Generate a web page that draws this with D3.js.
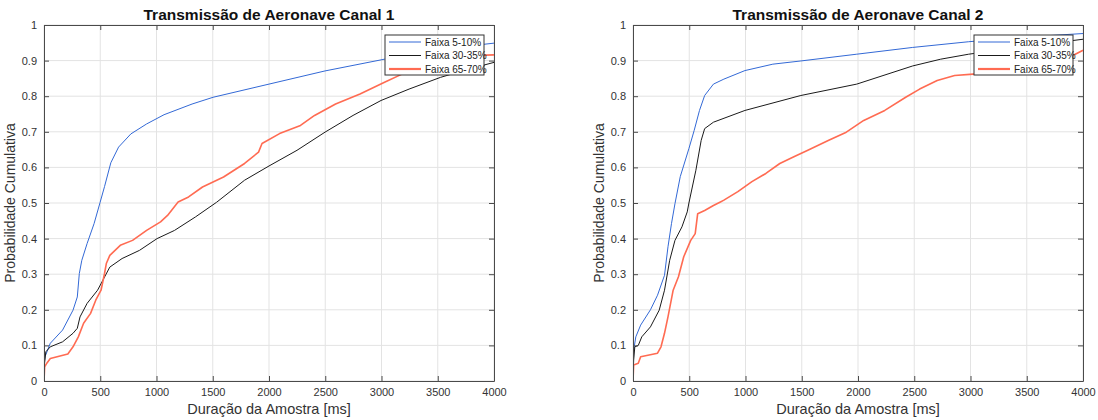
<!DOCTYPE html>
<html>
<head>
<meta charset="utf-8">
<script src="https://cdn.jsdelivr.net/npm/d3@7"></script>
<style>
  body { margin: 0; background: #fff; }
  text { font-family: "Liberation Sans", Arial, sans-serif; }
</style>
</head>
<body>
<svg id="chart" width="1098" height="420"></svg>
<script>

var xTicks = [0, 500, 1000, 1500, 2000, 2500, 3000, 3500, 4000];
var yTicks = [0, 0.1, 0.2, 0.3, 0.4, 0.5, 0.6, 0.7, 0.8, 0.9, 1];
var seriesNames = ["Faixa 5-10%", "Faixa 30-35%", "Faixa 65-70%"];
var titles = ["Transmissão de Aeronave Canal 1", "Transmissão de Aeronave Canal 2"];

// Canal 1 : [duration ms, cumulative probability]
var c1Blue = [[0,0],[2,0.05],[9,0.068],[56,0.106],[165,0.143],[258,0.199],[296,0.236],[314,0.302],
  [336,0.339],[383,0.386],[445,0.442],[498,0.501],[538,0.546],[594,0.613],[663,0.657],[772,0.694],
  [912,0.722],[1067,0.748],[1316,0.778],[1503,0.797],[2000,0.834],[2498,0.871],[3027,0.904],
  [3525,0.932],[4000,0.949]];
var c1Black = [[0,0],[5,0.05],[16,0.082],[56,0.096],[165,0.11],[258,0.134],[296,0.148],[320,0.18],
  [383,0.218],[476,0.255],[523,0.283],[585,0.32],[694,0.344],[849,0.367],[1005,0.4],[1160,0.423],
  [1347,0.461],[1534,0.502],[1783,0.564],[2000,0.604],[2249,0.648],[2498,0.699],[2747,0.746],
  [2996,0.788],[3245,0.82],[3525,0.853],[3774,0.876],[4000,0.895]];
var c1Red = [[0,0],[6,0.04],[25,0.05],[56,0.063],[212,0.076],[258,0.096],[305,0.124],[352,0.162],
  [414,0.19],[460,0.227],[507,0.255],[538,0.302],[554,0.33],[585,0.353],[678,0.381],[787,0.395],
  [912,0.423],[1036,0.447],[1098,0.465],[1145,0.484],[1192,0.503],[1285,0.517],[1409,0.545],
  [1596,0.573],[1783,0.611],[1907,0.643],[1938,0.667],[2094,0.695],[2280,0.718],[2405,0.746],
  [2592,0.778],[2809,0.806],[3027,0.839],[3182,0.862],[3338,0.885],[3618,0.904],[3680,0.913],
  [4000,0.916]];

// Canal 2
var c2Blue = [[0,0],[6,0.087],[25,0.124],[68,0.157],[155,0.2],[218,0.241],[280,0.297],[311,0.377],
  [342,0.442],[373,0.498],[420,0.574],[497,0.653],[544,0.704],[591,0.76],[637,0.802],[715,0.834],
  [808,0.848],[995,0.872],[1243,0.89],[1492,0.899],[1989,0.918],[2486,0.937],[2984,0.953],
  [3481,0.966],[4000,0.976]];
var c2Black = [[0,0],[6,0.059],[16,0.096],[47,0.1],[78,0.124],[155,0.152],[233,0.199],[280,0.255],
  [326,0.339],[373,0.395],[435,0.433],[482,0.475],[497,0.5],[559,0.592],[606,0.676],[637,0.709],
  [715,0.727],[995,0.76],[1492,0.802],[1989,0.834],[2486,0.885],[2735,0.904],[2984,0.918],
  [3500,0.94],[4000,0.96]];
var c2Red = [[0,0],[6,0.045],[47,0.05],[68,0.068],[186,0.076],[218,0.078],[249,0.096],[280,0.134],
  [311,0.18],[357,0.255],[404,0.293],[451,0.349],[513,0.395],[553,0.414],[575,0.47],[637,0.479],
  [715,0.493],[777,0.503],[808,0.508],[932,0.532],[1057,0.56],[1181,0.583],[1305,0.611],
  [1430,0.63],[1554,0.648],[1740,0.676],[1896,0.699],[2051,0.732],[2238,0.76],[2424,0.797],
  [2548,0.82],[2704,0.844],[2859,0.858],[3024,0.862],[3300,0.87],[3600,0.89],[3931,0.918],
  [4000,0.929]];

var COLORS = ["#3369d6", "#1a1a1a", "#ff6b52"];
var WIDTHS = [1, 1, 1.6];
var AXIS_COLOR = "#4a4a4a";

var plotTop = 25, plotBottom = 381, plotW = 450;

var svg = d3.select("#chart");

function drawPanel(left, title, series, idx)
{
  var x = d3.scaleLinear().domain([0, 4000]).range([left, left + plotW]);
  var y = d3.scaleLinear().domain([0, 1]).range([plotBottom, plotTop]);

  var g = svg.append("g");

  // grid
  g.selectAll(".gx").data(xTicks).enter().append("line")
    .attr("x1", function(d){return x(d);}).attr("x2", function(d){return x(d);})
    .attr("y1", plotTop).attr("y2", plotBottom)
    .attr("stroke", "#e3e3e3").attr("stroke-width", 1);
  g.selectAll(".gy").data(yTicks).enter().append("line")
    .attr("y1", function(d){return y(d);}).attr("y2", function(d){return y(d);})
    .attr("x1", left).attr("x2", left + plotW)
    .attr("stroke", "#e3e3e3").attr("stroke-width", 1);

  // curves
  svg.append("clipPath").attr("id", "clip" + idx)
    .append("rect").attr("x", left).attr("y", plotTop).attr("width", plotW).attr("height", plotBottom - plotTop);

  var line = d3.line()
    .x(function(d){return x(d[0]);})
    .y(function(d){return y(d[1]);});

  g.append("g").attr("clip-path", "url(#clip" + idx + ")")
    .selectAll("path").data(series).enter().append("path")
    .attr("d", line)
    .attr("fill", "none")
    .attr("stroke", function(d,i){return COLORS[i];})
    .attr("stroke-width", function(d,i){return WIDTHS[i];})
    .attr("stroke-linejoin", "round");

  // axes (MATLAB style: ticks inside, box)
  var xb = g.append("g").attr("transform", "translate(0," + plotBottom + ")")
    .call(d3.axisBottom(x).tickValues(xTicks).tickSizeInner(-5).tickSizeOuter(0).tickPadding(7)
      .tickFormat(d3.format("d")));
  var xt = g.append("g").attr("transform", "translate(0," + plotTop + ")")
    .call(d3.axisTop(x).tickValues(xTicks).tickSizeInner(-5).tickSizeOuter(0).tickFormat(""));
  var yl = g.append("g").attr("transform", "translate(" + left + ",0)")
    .call(d3.axisLeft(y).tickValues(yTicks).tickSizeInner(-5).tickSizeOuter(0).tickPadding(7)
      .tickFormat(function(d){return d3.format("~g")(d);}));
  var yr = g.append("g").attr("transform", "translate(" + (left + plotW) + ",0)")
    .call(d3.axisRight(y).tickValues(yTicks).tickSizeInner(-5).tickSizeOuter(0).tickFormat(""));

  [xb, xt, yl, yr].forEach(function(a) {
    a.select(".domain").attr("stroke", AXIS_COLOR);
    a.selectAll(".tick line").attr("stroke", AXIS_COLOR);
    a.selectAll("text").attr("fill", "#333").style("font-size", "11px")
      .style("font-family", "'Liberation Sans', Arial, sans-serif");
  });

  // title and labels
  g.append("text").attr("x", left + plotW / 2).attr("y", 20)
    .attr("text-anchor", "middle").attr("font-weight", "bold")
    .style("font-size", "15.5px").attr("fill", "#111").text(title);
  g.append("text").attr("x", left + plotW / 2).attr("y", 414)
    .attr("text-anchor", "middle").style("font-size", "14.5px").attr("fill", "#333")
    .text("Duração da Amostra [ms]");
  g.append("text")
    .attr("transform", "translate(" + (left - 29) + "," + ((plotTop + plotBottom) / 2) + ") rotate(-90)")
    .attr("text-anchor", "middle").style("font-size", "14px").attr("fill", "#333")
    .text("Probabilidade Cumulativa");

  // legend
  var lx = left + plotW - 109, ly = 35;
  var leg = g.append("g").attr("transform", "translate(" + lx + "," + ly + ")");
  leg.append("rect").attr("width", 99).attr("height", 40)
    .attr("fill", "#fff").attr("stroke", "#333").attr("stroke-width", 1);
  var rows = leg.selectAll(".row").data(seriesNames).enter().append("g")
    .attr("transform", function(d,i){return "translate(0," + (7 + i * 13.5) + ")";});
  rows.append("line").attr("x1", 4).attr("x2", 36).attr("y1", 0).attr("y2", 0)
    .attr("stroke", function(d,i){return COLORS[i];})
    .attr("stroke-width", function(d,i){return WIDTHS[i] + (i === 2 ? 0.6 : 0);});
  rows.append("text").attr("x", 40).attr("y", 3.5)
    .style("font-size", "10px").attr("fill", "#222").text(function(d){return d;});
}

drawPanel(44, titles[0], [c1Blue, c1Black, c1Red], 1);
drawPanel(633, titles[1], [c2Blue, c2Black, c2Red], 2);

</script>
</body>
</html>
